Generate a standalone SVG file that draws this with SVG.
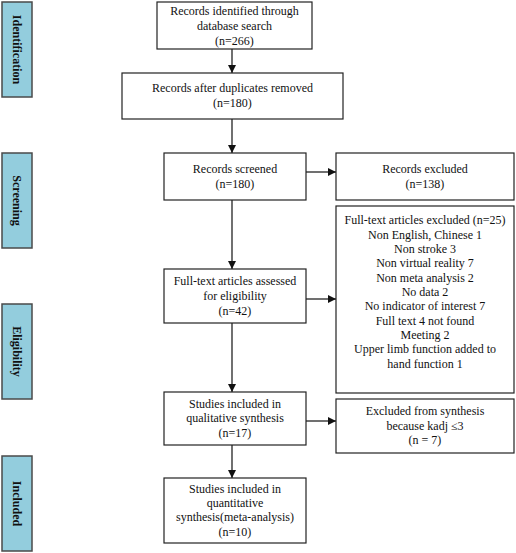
<svg xmlns="http://www.w3.org/2000/svg" width="516" height="553" viewBox="0 0 516 553">
<style>
.box{fill:#fff;stroke:#222;stroke-width:1.2}
.side{fill:#93CDDD;stroke:#4a4a4a;stroke-width:1.5}
.t{font-family:"Liberation Serif","Times New Roman",serif;font-size:12px;fill:#111;text-anchor:middle}
.s{font-family:"Liberation Serif","Times New Roman",serif;font-size:12px;font-weight:bold;fill:#111;text-anchor:middle}
.c{stroke:#111;stroke-width:1.2;fill:none;marker-end:url(#ah)}
</style>
<defs>
<marker id="ah" markerWidth="8" markerHeight="8" viewBox="0 0 8 8" refX="8" refY="4" orient="auto" markerUnits="userSpaceOnUse">
<path d="M0,0 L8,4 L0,8 Z" fill="#111"/>
</marker>
</defs>
<rect width="516" height="553" fill="#fff"/>
<g id="phase-identification"><rect class="side" x="2" y="2" width="30" height="95"/><text class="s" transform="translate(17,49.5) rotate(90)" y="4">Identification</text></g>
<g id="phase-screening"><rect class="side" x="2" y="153" width="30" height="95"/><text class="s" transform="translate(17,200.5) rotate(90)" y="4">Screening</text></g>
<g id="phase-eligibility"><rect class="side" x="2" y="304" width="30" height="95"/><text class="s" transform="translate(17,351.5) rotate(90)" y="4">Eligibility</text></g>
<g id="phase-included"><rect class="side" x="2" y="456" width="30" height="95"/><text class="s" transform="translate(17,503.5) rotate(90)" y="4">Included</text></g>

<g id="connectors">
<line class="c" x1="232" y1="49" x2="232" y2="73"/>
<line class="c" x1="232" y1="119" x2="232" y2="153"/>
<line class="c" x1="232" y1="200" x2="232" y2="269"/>
<line class="c" x1="232" y1="323" x2="232" y2="392"/>
<line class="c" x1="232" y1="445" x2="232" y2="478"/>
<line class="c" x1="306" y1="172" x2="336" y2="172"/>
<line class="c" x1="306" y1="299" x2="336" y2="299"/>
<line class="c" x1="306" y1="421" x2="336" y2="421"/>
</g>

<g id="n1"><rect class="box" x="157" y="2" width="155" height="47"/>
<text class="t" x="234.5" y="15">Records identified through</text>
<text class="t" x="234.5" y="30">database search</text>
<text class="t" x="234.5" y="45">(n=266)</text></g>

<g id="n2"><rect class="box" x="122" y="73" width="221" height="46"/>
<text class="t" x="232.5" y="92">Records after duplicates removed</text>
<text class="t" x="232.5" y="107">(n=180)</text></g>

<g id="n3"><rect class="box" x="164" y="153" width="142" height="47"/>
<text class="t" x="235" y="173">Records screened</text>
<text class="t" x="235" y="188">(n=180)</text></g>

<g id="n4"><rect class="box" x="336" y="153" width="178" height="47"/>
<text class="t" x="425" y="173">Records excluded</text>
<text class="t" x="425" y="188">(n=138)</text></g>

<g id="n5"><rect class="box" x="164" y="269" width="142" height="54"/>
<text class="t" x="235" y="285">Full-text articles assessed</text>
<text class="t" x="235" y="300">for eligibility</text>
<text class="t" x="235" y="315">(n=42)</text></g>

<g id="n6"><rect class="box" x="336" y="206" width="178" height="187"/>
<text class="t" x="425" y="224">Full-text articles excluded (n=25)</text>
<text class="t" x="425" y="239">Non English, Chinese 1</text>
<text class="t" x="425" y="253">Non stroke 3</text>
<text class="t" x="425" y="267">Non virtual reality 7</text>
<text class="t" x="425" y="282">Non meta analysis 2</text>
<text class="t" x="425" y="296">No data 2</text>
<text class="t" x="425" y="310">No indicator of interest 7</text>
<text class="t" x="425" y="325">Full text 4 not found</text>
<text class="t" x="425" y="339">Meeting 2</text>
<text class="t" x="425" y="353">Upper limb function added to</text>
<text class="t" x="425" y="368">hand function 1</text></g>

<g id="n7"><rect class="box" x="164" y="392" width="142" height="53"/>
<text class="t" x="235" y="408">Studies included in</text>
<text class="t" x="235" y="422">qualitative synthesis</text>
<text class="t" x="235" y="437">(n=17)</text></g>

<g id="n8"><rect class="box" x="336" y="399" width="178" height="54"/>
<text class="t" x="425" y="415">Excluded from synthesis</text>
<text class="t" x="425" y="430">because kadj ≤3</text>
<text class="t" x="425" y="444">(n = 7)</text></g>

<g id="n9"><rect class="box" x="164" y="478" width="142" height="65"/>
<text class="t" x="235" y="493">Studies included in</text>
<text class="t" x="235" y="507">quantitative</text>
<text class="t" x="235" y="521">synthesis(meta-analysis)</text>
<text class="t" x="235" y="536">(n=10)</text></g>
</svg>
